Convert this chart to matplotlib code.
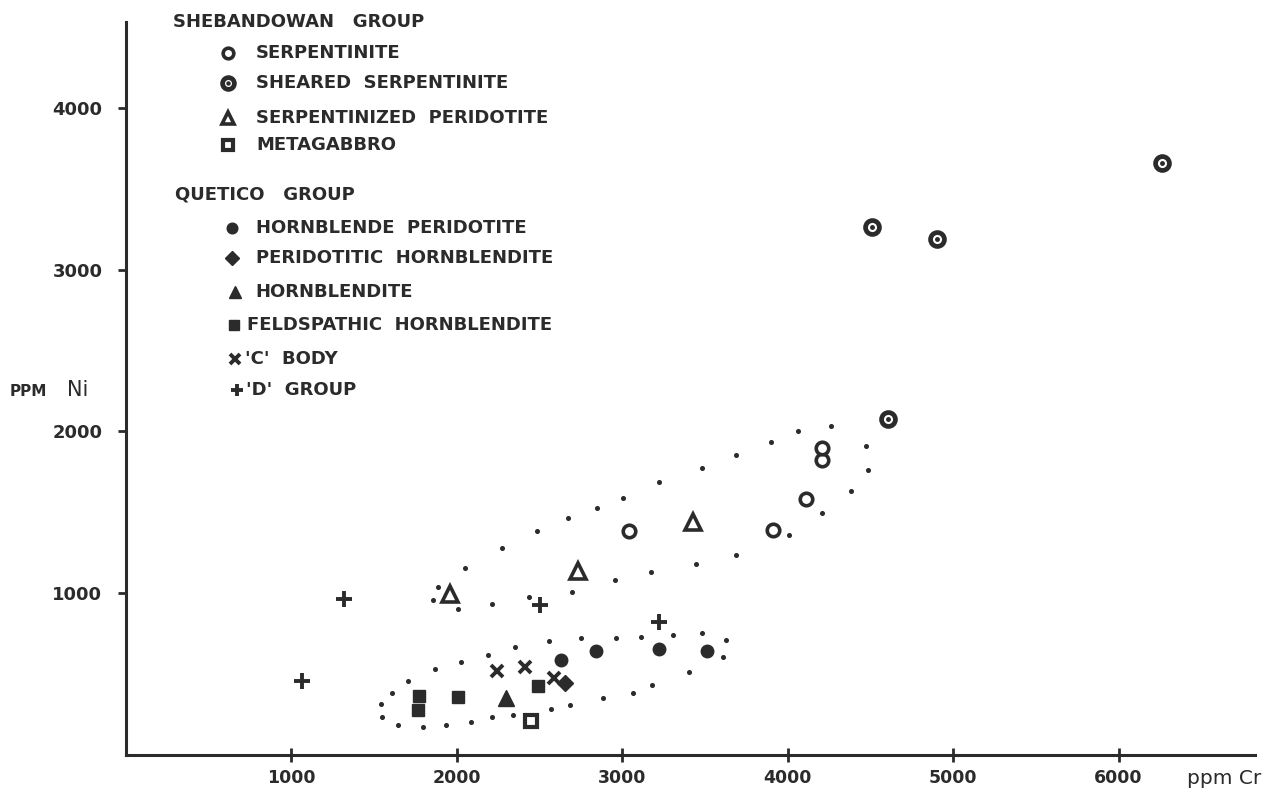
import matplotlib.pyplot as plt
from matplotlib.lines import Line2D

W, H = 1263, 798
INK = '#2b2b2b'

# Shebandowan group
serp_cr = [3040, 3910, 4110, 4210, 4210]
serp_ni = [1385, 1390, 1580, 1825, 1895]
sheared_cr = [4510, 4900, 4605, 6265]
sheared_ni = [3265, 3190, 2075, 3660]
serp_perid_cr = [1960, 2735, 3425]
serp_perid_ni = [995, 1135, 1440]
metagabbro_cr = [2450]
metagabbro_ni = [210]

# Quetico group
hbl_perid_cr = [2630, 2840, 3225, 3515]
hbl_perid_ni = [590, 640, 655, 640]
perid_hbl_cr = [2655]
perid_hbl_ni = [445]
hornblendite_cr = [2295]
hornblendite_ni = [350]
feld_hbl_cr = [1770, 1765, 2010, 2490]
feld_hbl_ni = [365, 280, 360, 425]
c_body_cr = [2245, 2410, 2585]
c_body_ni = [520, 545, 475]
d_group_cr = [1065, 1320, 2500, 3225]
d_group_ni = [455, 965, 925, 825]

# dotted outlines of the two fields
upper_cr = [1857, 1887, 2051, 2275, 2486, 2674, 2849, 3007, 3224, 3479, 3690, 3902,
            4065, 4259, 4471, 4483, 4380, 4205, 4005, 3690, 3448, 3176, 2958, 2698,
            2438, 2214, 2008]
upper_ni = [957, 1037, 1154, 1278, 1383, 1463, 1525, 1586, 1685, 1772, 1852, 1932,
            2000, 2031, 1907, 1759, 1630, 1494, 1358, 1235, 1179, 1130, 1080, 1006,
            975, 932, 901]
lower_cr = [2559, 2753, 2964, 3116, 3309, 3479, 3630, 3606, 3406, 3182, 3067, 2886,
            2686, 2571, 2341, 2214, 2087, 1936, 1797, 1646, 1549, 1543, 1609, 1706,
            1869, 2027, 2190, 2353]
lower_ni = [704, 722, 722, 728, 741, 753, 710, 605, 512, 432, 383, 352,
            309, 284, 247, 235, 204, 185, 173, 185, 235, 315, 383, 457,
            531, 574, 617, 667]

x_ticks = [1000, 2000, 3000, 4000, 5000, 6000]
y_ticks = [1000, 2000, 3000, 4000]

open_style = dict(ls='none', color=INK, mfc='white', mec=INK)
styles = {
    'serp': dict(marker='o', ms=9, mew=2.6, **open_style),
    'sheared': dict(marker='o', ms=10, mew=3.4, **open_style),
    'serp_perid': dict(marker='^', ms=11, mew=2.6, **open_style),
    'metagabbro': dict(marker='s', ms=9, mew=3.0, **open_style),
    'hbl_perid': dict(marker='o', ms=9, ls='none', color=INK),
    'perid_hbl': dict(marker='D', ms=8, ls='none', color=INK),
    'hornblendite': dict(marker='^', ms=11, ls='none', color=INK),
    'feld_hbl': dict(marker='s', ms=8.5, ls='none', color=INK),
    'c_body': dict(marker='x', ms=8, mew=2.8, ls='none', color=INK),
    'd_group': dict(marker='+', ms=11, mew=2.8, ls='none', color=INK),
}

fig = plt.figure(figsize=(W / 100, H / 100), dpi=100)
fig.patch.set_facecolor('white')


def fx(px):
    return px / W


def fy(py):
    return 1 - py / H


ax = fig.add_axes([fx(126), fy(755), fx(1255) - fx(126), fy(22) - fy(755)])
ax.set_xlim(0, 6825)
ax.set_ylim(0, 4530)
ax.set_facecolor('none')

ax.plot(upper_cr, upper_ni, ls='none', marker='o', ms=2.6, color=INK)
ax.plot(lower_cr, lower_ni, ls='none', marker='o', ms=2.6, color=INK)

ax.plot(serp_cr, serp_ni, **styles['serp'])
ax.plot(sheared_cr, sheared_ni, **styles['sheared'])
ax.plot(sheared_cr, sheared_ni, ls='none', marker='o', ms=2.5, color=INK)
ax.plot(serp_perid_cr, serp_perid_ni, **styles['serp_perid'])
ax.plot(metagabbro_cr, metagabbro_ni, **styles['metagabbro'])
ax.plot(hbl_perid_cr, hbl_perid_ni, **styles['hbl_perid'])
ax.plot(perid_hbl_cr, perid_hbl_ni, **styles['perid_hbl'])
ax.plot(hornblendite_cr, hornblendite_ni, **styles['hornblendite'])
ax.plot(feld_hbl_cr, feld_hbl_ni, **styles['feld_hbl'])
ax.plot(c_body_cr, c_body_ni, **styles['c_body'])
ax.plot(d_group_cr, d_group_ni, **styles['d_group'])

for s in ['top', 'right']:
    ax.spines[s].set_visible(False)
for s in ['left', 'bottom']:
    ax.spines[s].set_linewidth(2.2)
    ax.spines[s].set_color(INK)

ax.set_xticks(x_ticks)
ax.set_yticks(y_ticks)
ax.set_xticklabels([str(v) for v in x_ticks], fontsize=12.5, fontweight='bold', color=INK)
ax.set_yticklabels([str(v) for v in y_ticks], fontsize=13, fontweight='bold', color=INK)
ax.tick_params(axis='x', direction='inout', length=10, width=2, color=INK, pad=5)
ax.tick_params(axis='y', direction='out', length=6, width=2, color=INK, pad=11)

# axis captions
fig.text(fx(10), fy(392), 'PPM', fontsize=11, fontweight='bold', color=INK, va='center')
fig.text(fx(67), fy(390), 'Ni', fontsize=15, color=INK, va='center')
fig.text(fx(1261), fy(778), 'ppm Cr', fontsize=14.5, color=INK, va='center', ha='right')

# legend
legend_font = dict(fontsize=13, fontweight='bold', color=INK, va='center')
fig.text(fx(173), fy(22), 'SHEBANDOWAN   GROUP', **legend_font)
fig.text(fx(175), fy(194), 'QUETICO   GROUP', **legend_font)

entries = [
    ('serp', 'SERPENTINITE', 228, 53, 256),
    ('sheared', 'SHEARED  SERPENTINITE', 228, 83, 256),
    ('serp_perid', 'SERPENTINIZED  PERIDOTITE', 228, 118, 256),
    ('metagabbro', 'METAGABBRO', 228, 145, 256),
    ('hbl_perid', 'HORNBLENDE  PERIDOTITE', 232, 228, 256),
    ('perid_hbl', 'PERIDOTITIC  HORNBLENDITE', 232, 258, 256),
    ('hornblendite', 'HORNBLENDITE', 235, 292, 255),
    ('feld_hbl', 'FELDSPATHIC  HORNBLENDITE', 234, 325, 247),
    ('c_body', "'C'  BODY", 235, 359, 245),
    ('d_group', "'D'  GROUP", 237, 390, 246),
]
for key, label, mx, my, tx in entries:
    st = dict(styles[key])
    st['ms'] = st['ms'] * 0.85
    fig.add_artist(Line2D([fx(mx)], [fy(my)], transform=fig.transFigure, **st))
    if key == 'sheared':
        fig.add_artist(Line2D([fx(mx)], [fy(my)], transform=fig.transFigure,
                              ls='none', marker='o', ms=2.2, color=INK))
    fig.text(fx(tx), fy(my), label, **legend_font)

fig.savefig('out.png', dpi=100, facecolor='white')
